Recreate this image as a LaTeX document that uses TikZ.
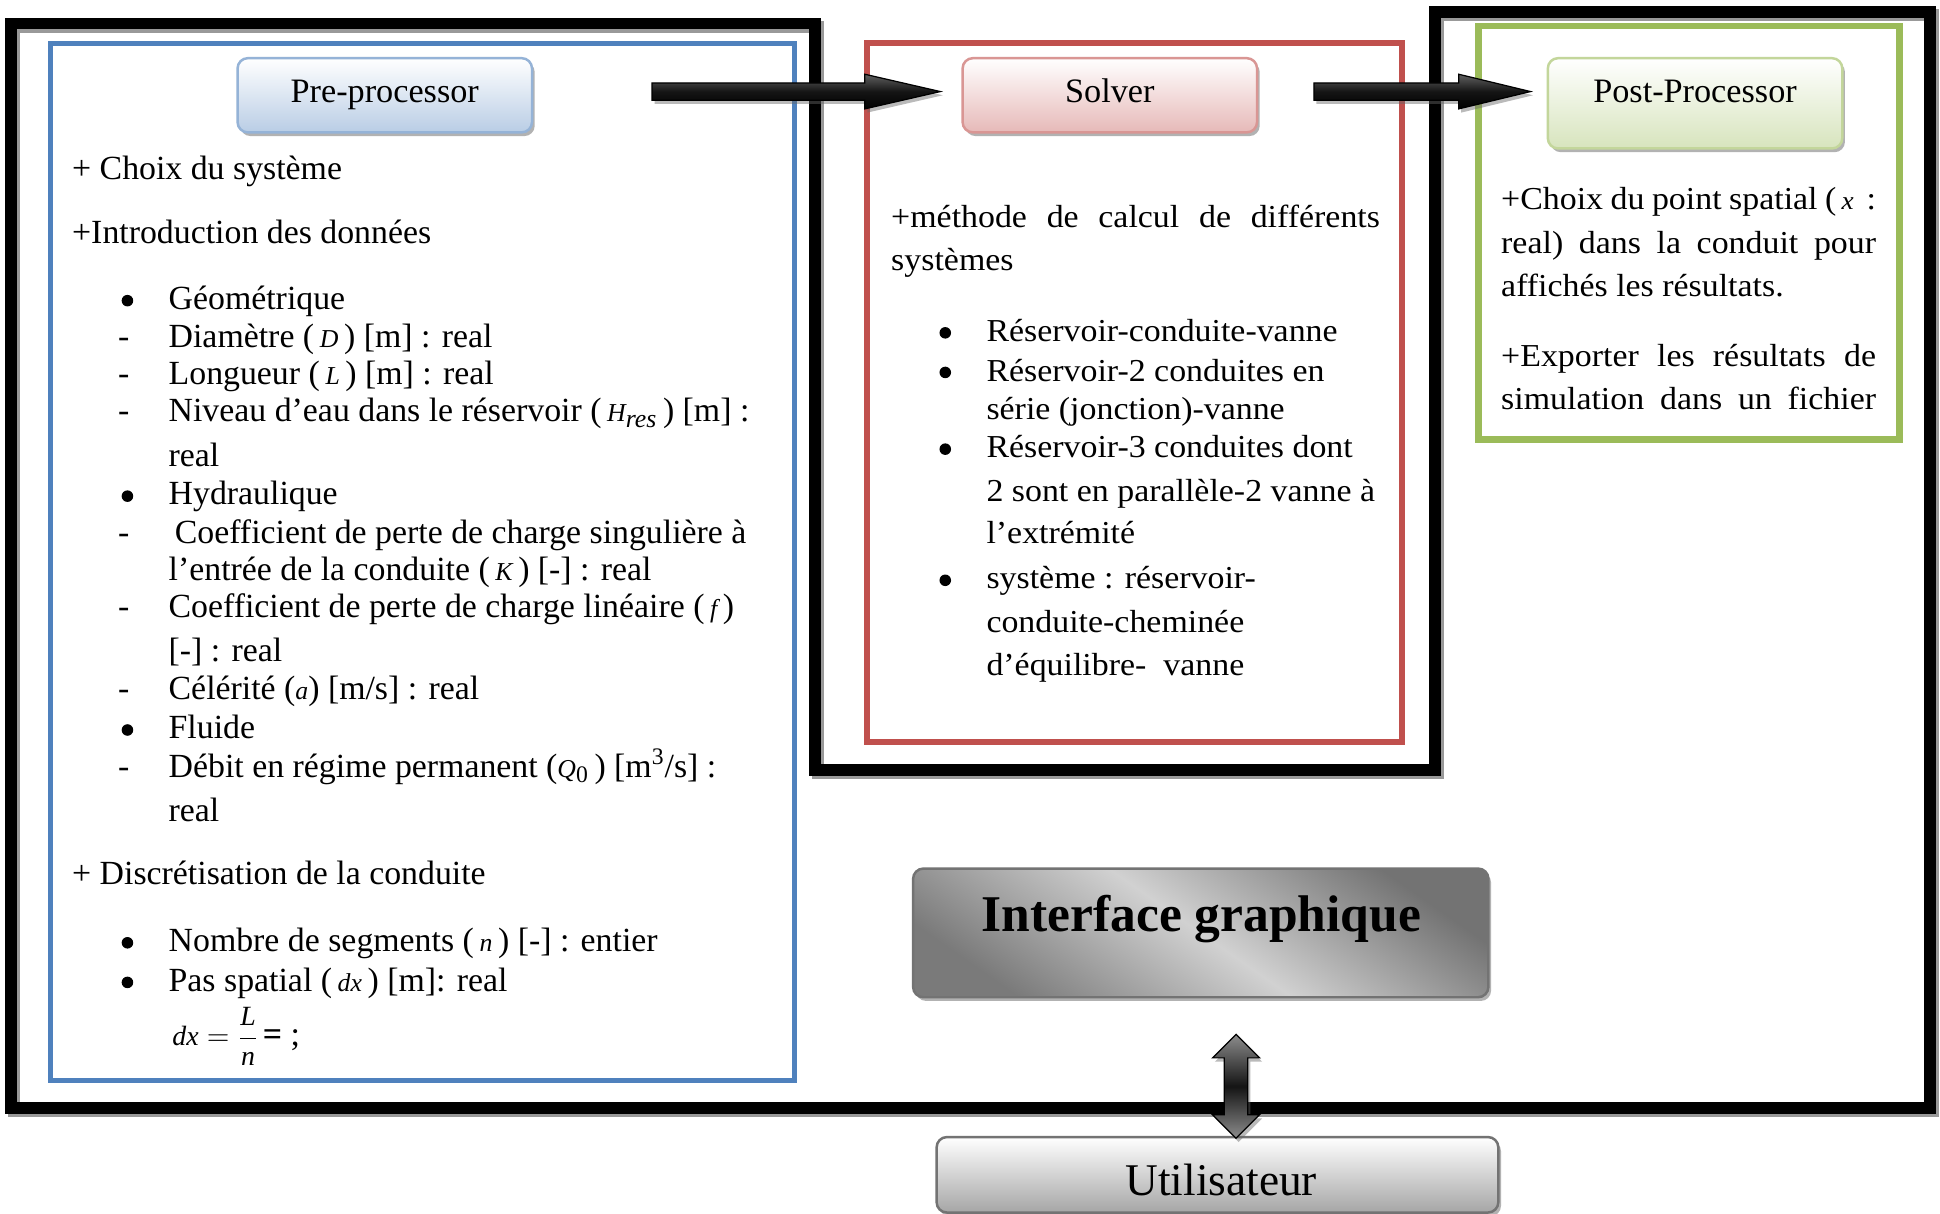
\documentclass[tikz,border=0pt]{standalone}
\usepackage{fontspec}
\setmainfont{Liberation Serif}
\newfontfamily\wfont[FakeStretch=1.06]{Liberation Serif}
\usetikzlibrary{shadows,calc}
\definecolor{boxblue}{HTML}{4F81BD}
\definecolor{boxred}{HTML}{C0504D}
\definecolor{boxgreen}{HTML}{9BBB59}
\definecolor{preb}{HTML}{B9CDE5}
\definecolor{prebd}{HTML}{95B3D7}
\definecolor{solb}{HTML}{E6B9B8}
\definecolor{solbd}{HTML}{D99694}
\definecolor{postb}{HTML}{D7E4BD}
\definecolor{postbd}{HTML}{C3D69B}
\newcommand\lfs{\fontsize{16.4}{18}\selectfont}
\newcommand\sfs{\wfont\fontsize{15.5}{18}\selectfont}
\newcommand\mi[1]{{\fontsize{12.5}{14}\selectfont\itshape #1}}
\begin{document}
\begin{tikzpicture}[x=0.6pt,y=-0.6pt,
  ltxt/.style={anchor=base west,inner sep=0pt,font=\lfs},
  stxt/.style={anchor=base west,inner sep=0pt,font=\sfs},
  dashmark/.style={anchor=base,inner sep=0pt,font=\lfs},
  bul/.style={circle,fill=black,inner sep=0pt,minimum size=5.6pt},
  frame/.style={line width=5.8pt,line join=miter},
  lblbox/.style={rounded corners=5pt,line width=1.2pt,
    drop shadow={shadow xshift=1.3pt,shadow yshift=-1.8pt,opacity=0.5,fill=black!60}},
  lbltxt/.style={inner sep=0pt,anchor=base,font=\fontsize{16.6}{18}\selectfont},
  barrow/.style={draw=black,line width=0.6pt,top color=black!62,bottom color=black,middle color=black!92,
    drop shadow={shadow xshift=1.2pt,shadow yshift=-1.8pt,opacity=0.45,fill=black!60}},
  darrow/.style={draw=black,line width=0.6pt,top color=black!45,bottom color=black!45,middle color=black!92,
    drop shadow={shadow xshift=1.2pt,shadow yshift=-1.8pt,opacity=0.45,fill=black!60}}
]
\useasboundingbox (0,0) rectangle (1568,981);
\fill[white] (0,0) rectangle (1568,981);

% outer frame with shadow
\begin{scope}[shift={(2.5,2.5)}]
\draw[frame,black!40] (9,19) -- (659,19) -- (659,622) -- (1160,622) -- (1160,10) -- (1560,10) -- (1560,895.5) -- (9,895.5) -- cycle;
\end{scope}
\draw[frame] (9,19) -- (659,19) -- (659,622) -- (1160,622) -- (1160,10) -- (1560,10) -- (1560,895.5) -- (9,895.5) -- cycle;

% coloured boxes
\draw[boxblue,line width=2.4pt] (41,35) rectangle (642,873);
\draw[boxred,line width=3pt] (700.5,35) rectangle (1133,600);
\draw[boxgreen,line width=3.2pt] (1195,21) rectangle (1535,355);

% label boxes
\node[lblbox,draw=prebd,top color=white,bottom color=preb,minimum width=142.8pt,minimum height=36pt] (prebox) at (311,77) {};
\node[lbltxt] (pretxt) at (311,83) {Pre-processor};
\node[lblbox,draw=solbd,top color=white,bottom color=solb,minimum width=142.8pt,minimum height=36pt] (solbox) at (897,77) {};
\node[lbltxt] (soltxt) at (897,83) {Solver};
\node[lblbox,draw=postbd,top color=white,bottom color=postb,minimum width=142.8pt,minimum height=43.8pt] (postbox) at (1370,83.5) {};
\node[lbltxt] (posttxt) at (1370,83) {Post-Processor};

\node[lblbox,draw=black!55,top color=black!55,bottom color=black!52,middle color=black!18,shading angle=-35,
  minimum width=279pt,minimum height=62.4pt] (igbox) at (970.5,754) {};
\node[inner sep=0pt,font=\fontsize{25}{27}\selectfont\bfseries] (igtxt) at (971,743) {Interface graphique};
\node[lblbox,draw=black!55,top color=white,bottom color=black!35,
  minimum width=272.4pt,minimum height=36.6pt] (userbox) at (984,949.5) {};
\node[inner sep=0pt,anchor=base,font=\fontsize{22}{24}\selectfont] (usertxt) at (987,966) {Utilisateur};

% left box text
\node[ltxt] (l1) at (58,145) {+ Choix du système};
\node[ltxt] (l2) at (58,197) {+Introduction des données};
\node[bul] (b1) at (103,243) {};
\node[ltxt] (l3) at (136,250) {Géométrique};
\node[dashmark] (d1) at (100,281) {-};
\node[ltxt] (l4) at (136,281) {Diamètre (\,\mi{D}\,) [m] : real};
\node[dashmark] (d2) at (100,311) {-};
\node[ltxt] (l5) at (136,311) {Longueur (\,\mi{L}\,) [m] : real};
\node[dashmark] (d3) at (100,341) {-};
\node[ltxt] (l6) at (136,341) {Niveau d’eau dans le réservoir (\,\mi{H}\textsubscript{\mi{res}}\,) [m] :};
\node[ltxt] (l7) at (136,377) {real};
\node[bul] (b2) at (103,401) {};
\node[ltxt] (l8) at (136,408) {Hydraulique};
\node[dashmark] (d4) at (100,439) {-};
\node[ltxt] (l9) at (141,439) {Coefficient de perte de charge singulière à};
\node[ltxt] (l10) at (136,469) {l’entrée de la conduite (\,\mi{K}\,) [-] : real};
\node[dashmark] (d5) at (100,499) {-};
\node[ltxt] (l11) at (136,499) {Coefficient de perte de charge linéaire (\,\mi{f}\,)};
\node[ltxt] (l12) at (136,535) {[-] : real};
\node[dashmark] (d6) at (100,565) {-};
\node[ltxt] (l13) at (136,565) {Célérité (\mi{a}) [m/s] : real};
\node[bul] (b3) at (103,590) {};
\node[ltxt] (l14) at (136,597) {Fluide};
\node[dashmark] (d7) at (100,628) {-};
\node[ltxt] (l15) at (136,628) {Débit en régime permanent (\mi{Q}\textsubscript{0}\,) [m\textsuperscript{3}/s] :};
\node[ltxt] (l16) at (136,664) {real};
\node[ltxt] (l17) at (58,715) {+ Discrétisation de la conduite};
\node[bul] (b4) at (103,762) {};
\node[ltxt] (l18) at (136,769) {Nombre de segments (\,\mi{n}\,) [-] : entier};
\node[bul] (b5) at (103,794) {};
\node[ltxt] (l19) at (136,801) {Pas spatial (\,\mi{dx}\,) [m]: real};
\node[ltxt] (l20) at (139,845) {\fontsize{13.5}{15}\selectfont$\displaystyle\textit{dx}=\frac{\textit{L}}{\textit{n}}$\,{\lfs\textbf{=} ;}};

% solver text
\node[stxt] (s1) at (720,184) {\makebox[237pt][s]{+méthode de calcul de différents}};
\node[stxt] (s2) at (720,219) {systèmes};
\node[bul] (sb1) at (764,269) {};
\node[stxt] (s3) at (797,276) {Réservoir-conduite-vanne};
\node[bul] (sb2) at (764,301) {};
\node[stxt] (s4) at (797,308) {Réservoir-2 conduites en};
\node[stxt] (s5) at (797,339) {série (jonction)-vanne};
\node[bul] (sb3) at (764,363) {};
\node[stxt] (s6) at (797,370) {Réservoir-3 conduites dont};
\node[stxt] (s7) at (797,405) {2 sont en parallèle-2 vanne à};
\node[stxt] (s8) at (797,439) {l’extrémité};
\node[bul] (sb4) at (764,469) {};
\node[stxt] (s9) at (797,476) {système : réservoir-};
\node[stxt] (s10) at (797,511) {conduite-cheminée};
\node[stxt] (s11) at (797,546) {d’équilibre-\ \ vanne};

% post text
\node[stxt] (p1) at (1213,169) {\makebox[181.8pt][s]{+Choix du point spatial (\,\mi{x}\, :}};
\node[stxt] (p2) at (1213,205) {\makebox[181.8pt][s]{real) dans la conduit pour}};
\node[stxt] (p3) at (1213,240) {affichés les résultats.};
\node[stxt] (p4) at (1213,296) {\makebox[181.8pt][s]{+Exporter les résultats de}};
\node[stxt] (p5) at (1213,331) {\makebox[181.8pt][s]{simulation dans un fichier}};

% block arrows
\coordinate (a1t) at (527,74);
\coordinate (a1h) at (760,74);
\path[barrow] ($(a1t)+(0,-7)$) -- ($(a1h)+(-61,-7)$) -- ($(a1h)+(-61,-14)$) -- (a1h) -- ($(a1h)+(-61,14)$) -- ($(a1h)+(-61,7)$) -- ($(a1t)+(0,7)$) -- cycle;
\coordinate (a2t) at (1062,74);
\coordinate (a2h) at (1237,74);
\path[barrow] ($(a2t)+(0,-7)$) -- ($(a2h)+(-58,-7)$) -- ($(a2h)+(-58,-14)$) -- (a2h) -- ($(a2h)+(-58,14)$) -- ($(a2h)+(-58,7)$) -- ($(a2t)+(0,7)$) -- cycle;

% double arrow
\coordinate (dtop) at (999,836);
\coordinate (dbot) at (999,920);
\path[darrow] (dtop) -- ++(19,19) -- ++(-9.5,0) -- ($(dbot)+(9.5,-19)$) -- ++(9.5,0) -- (dbot) -- ++(-19,-19) -- ++(9.5,0) -- ($(dtop)+(-9.5,19)$) -- ++(-9.5,0) -- cycle;
\end{tikzpicture}
\end{document}
